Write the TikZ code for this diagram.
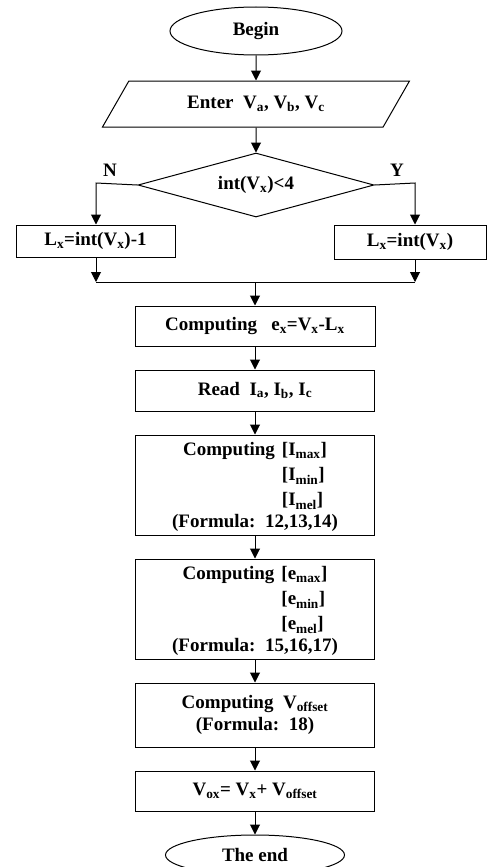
\documentclass[tikz,border=0pt]{standalone}
\usepackage{fontspec}
\setmainfont{Liberation Serif}
\usetikzlibrary{arrows.meta,positioning,shapes.geometric,calc}

\begin{document}
\begin{tikzpicture}[
  x=1pt, y=-1pt,
  >={Triangle[length=10pt,width=10pt]},
  node distance=23pt,
  line width=1pt,
  every node/.style={font=\bfseries\fontsize{19}{25}\selectfont},
  startEnd/.style={ellipse, draw, inner sep=0pt},
  ioBox/.style={trapezium, trapezium left angle=31, trapezium right angle=149, trapezium stretches body, draw, minimum width=307pt, minimum height=46pt, inner sep=0pt},
  decide/.style={diamond, draw, aspect=3.69, minimum width=236pt, minimum height=64pt, inner sep=0pt},
  procBox/.style={rectangle, draw, minimum width=239pt, align=center, inner sep=0pt},
  branchLabel/.style={font=\bfseries\fontsize{19}{20}\selectfont}
]
  \useasboundingbox (0,0) rectangle (487,867);

  \node[startEnd, minimum width=172pt, minimum height=48pt] (begin) at (256,31) {Begin};
  \node[ioBox, below=25pt of begin] (enter) {Enter\ \ V\textsubscript{a}, V\textsubscript{b}, V\textsubscript{c}};
  \node[decide, below=25pt of enter] (test) {int(V\textsubscript{x})<4};

  \coordinate (nTurn) at (96,183);
  \coordinate (yTurn) at (415,183);
  \node[branchLabel] (nLab) at (110,170) {N};
  \node[branchLabel] (yLab) at (397,170) {Y};

  \node[procBox, minimum width=159pt, minimum height=32pt] (lower) at (95.5,241) {L\textsubscript{x}=int(V\textsubscript{x})-1};
  \node[procBox, minimum width=152pt, minimum height=34pt] (keep) at (410,242) {L\textsubscript{x}=int(V\textsubscript{x})};
  \coordinate (mergeL) at (96,282);
  \coordinate (mergeR) at (415,282);

  \node[procBox, minimum width=240pt, minimum height=40pt] (err) at (255,326) {Computing\ \ \ e\textsubscript{x}=V\textsubscript{x}-L\textsubscript{x}};
  \node[procBox, minimum height=41pt, below=of err] (read) {Read\ \ I\textsubscript{a}, I\textsubscript{b}, I\textsubscript{c}};
  \node[procBox, minimum height=100pt, below=of read] (curr) {\begin{tabular}[b]{@{}l@{\hspace{7pt}}l@{}}Computing & [I\textsubscript{max}]\\ & [I\textsubscript{min}]\\ & [I\textsubscript{mel}]\end{tabular}\\[-3pt](Formula:\ \ 12,13,14)};
  \node[procBox, minimum height=100pt, below=of curr] (dev) {\begin{tabular}[b]{@{}l@{\hspace{7pt}}l@{}}Computing & [e\textsubscript{max}]\\ & [e\textsubscript{min}]\\ & [e\textsubscript{mel}]\end{tabular}\\[-3pt](Formula:\ \ 15,16,17)};
  \node[procBox, minimum height=64pt, below=of dev] (offs) {Computing\ \ V\textsubscript{offset}\\[-3pt](Formula:\ \ 18)};
  \node[procBox, minimum height=40pt, below=of offs] (out) {V\textsubscript{ox}= V\textsubscript{x}+ V\textsubscript{offset}};
  \node[startEnd, minimum width=179pt, minimum height=40pt, below=of out] (finish) {The end};

  % main flow
  \draw[->] (begin) -- (enter);
  \draw[->] (enter) -- (test);
  \draw[->] (test.west) -- (nTurn) -- (lower.north -| nTurn);
  \draw[->] (test.east) -- (yTurn) -- (keep.north -| yTurn);
  \draw[->] (lower.south -| nTurn) -- (mergeL);
  \draw[->] (keep.south -| yTurn) -- (mergeR);
  \draw (mergeL) -- (mergeR);
  \draw[->] (mergeL -| err) -- (err);
  \foreach \a/\b in {err/read, read/curr, curr/dev, dev/offs, offs/out, out/finish}
    \draw[->] (\a) -- (\b);
\end{tikzpicture}
\end{document}
